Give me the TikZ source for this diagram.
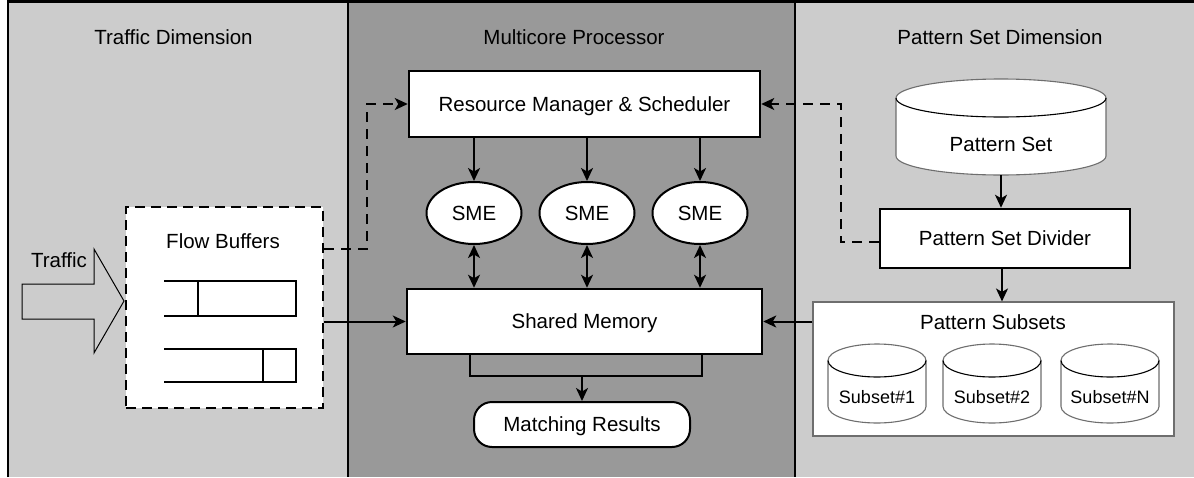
\documentclass[tikz,border=0pt]{standalone}
\usepackage{fontspec}
\setmainfont{Liberation Sans}
\usetikzlibrary{arrows.meta,shapes.geometric}
\definecolor{sidebg}{RGB}{204,204,204}
\definecolor{corebg}{RGB}{153,153,153}
\definecolor{thin}{RGB}{110,110,110}
% drum(cx, top-ellipse y, bottom-ellipse y, half width, y radius, name)
\newcommand\drum[6]{%
  \filldraw[fill=white,draw=thin,line width=1.1pt]
    ({#1-#4},#2) -- ({#1-#4},#3)
    arc[start angle=180,end angle=0,x radius=#4,y radius=#5]
    -- ({#1+#4},#2)
    arc[start angle=0,end angle=-180,x radius=#4,y radius=#5] -- cycle;
  \draw[thin,line width=1.1pt] ({#1-#4},#2)
    arc[start angle=180,end angle=0,x radius=#4,y radius=#5];
  \node[minimum width={2*#4pt},minimum height={(#3-#2+2*#5)*1pt}] (#6) at (#1,{(#2+#3)/2}) {};
}
\begin{document}
\begin{tikzpicture}[x=1pt,y=-1pt,
  every node/.style={font=\fontsize{20.5}{24}\selectfont,inner sep=0pt,
    text height=14.7pt,text depth=0pt},
  box/.style={draw,rectangle,fill=white,line width=2.5pt},
  sme/.style={draw,ellipse,fill=white,line width=2pt,
    minimum width=95pt,minimum height=62pt},
  tip/.tip={Stealth[length=13pt,width=12pt,inset=3.5pt]},
  arr/.style={-tip,line width=2pt},
  darr/.style={tip-tip,line width=2pt},
  dlink/.style={-tip,line width=2pt,dash pattern=on 10pt off 7pt},
  wire/.style={line width=2pt},
  small/.style={font=\fontsize{18}{22}\selectfont,text height=13pt}]

\useasboundingbox (0,0) rectangle (1194,477);

% column backgrounds and frame
\fill[white] (0,0) rectangle (1194,477);
\fill[sidebg] (8,0) rectangle (348,477);
\fill[corebg] (348,0) rectangle (795,477);
\fill[sidebg] (795,0) rectangle (1194,477);
\draw[line width=2.5pt] (8,477) -- (8,1.5) -- (1194,1.5);
\draw[line width=2.5pt] (348,0) -- (348,477);
\draw[line width=2.5pt] (795,0) -- (795,477);

% column titles
\node (t1) at (173.5,37) {Traffic Dimension};
\node (t2) at (574,37) {Multicore Processor};
\node (t3) at (1000,37) {Pattern Set Dimension};

% traffic side
\draw[thin,line width=1pt] (22,284) -- (94,284) -- (94,249) -- (124,301)
  -- (94,353) -- (94,319) -- (22,319) -- cycle;
\node (traffic) at (59,260) {Traffic};

\node[draw,fill=white,line width=2.5pt,dash pattern=on 10pt off 6pt,
  minimum width=197pt,minimum height=201pt] (fb) at (224.5,307.5) {};
\node (fblabel) at (223,241) {Flow Buffers};
\draw[line width=2.5pt] (164,281) -- (296,281) -- (296,316) -- (164,316);
\draw[line width=2.5pt] (198,281) -- (198,316);
\draw[line width=2.5pt] (164,349) -- (296,349) -- (296,382) -- (164,382);
\draw[line width=2.5pt] (263,349) -- (263,382);

% processor
\node[box,minimum width=351pt,minimum height=66pt] (rm) at (584.5,104)
  {Resource Manager \& Scheduler};
\node[sme] (sme1) at (474,213) {SME};
\node[sme] (sme2) at (587,213) {SME};
\node[sme] (sme3) at (700,213) {SME};
\node[box,minimum width=355pt,minimum height=65pt] (sm) at (584.5,321.5)
  {Shared Memory};
\node[draw,fill=white,line width=2pt,rounded corners=18pt,
  minimum width=216pt,minimum height=45pt] (mr) at (582,424.5)
  {Matching Results};

\foreach \i in {1,2,3}{
  \draw[arr] (rm.south -| sme\i.north) -- (sme\i.north);
  \draw[darr] (sme\i.south) -- (sme\i.south |- sm.north);
}
\draw[wire] (470,354) -- (470,376) -- (702,376) -- (702,354);
\coordinate (join) at (mr.north |- 0,376);
\draw[arr] (join) -- (mr.north);

% pattern set side
\drum{1001}{98}{156}{105}{19}{ps}
\node (pslabel) at (1001,144) {Pattern Set};
\node[box,minimum width=250pt,minimum height=59pt] (psd) at (1005,238.5)
  {Pattern Set Divider};
\draw[arr] (ps.south) -- (ps.south |- psd.north);

\node[draw=thin,fill=white,line width=1.1pt,minimum width=361pt,
  minimum height=134pt] (pss) at (993.5,369) {};
\node (psslabel) at (993,322) {Pattern Subsets};
\coordinate (pssin) at (1002,0);
\draw[arr] (pssin |- psd.south) -- (pssin |- pss.north);

\drum{877}{360.5}{406.5}{49}{16.5}{sub1}
\drum{992}{360.5}{406.5}{49}{16.5}{sub2}
\drum{1110}{360.5}{406.5}{49}{16.5}{subN}
\node[small] (s1) at (877,397) {Subset\#1};
\node[small] (s2) at (992,397) {Subset\#2};
\node[small] (sN) at (1110,397) {Subset\#N};

% data paths into shared memory
\draw[arr] (fb.east |- sm.west) -- (sm.west);
\draw[arr] (pss.west |- sm.east) -- (sm.east);

% control paths to the scheduler
\draw[dlink] (fb.east |- 0,249) -| (367,104) -- (rm.west);
\draw[dlink] (psd.west |- 0,242) -| (841,104) -- (rm.east);
\end{tikzpicture}
\end{document}
